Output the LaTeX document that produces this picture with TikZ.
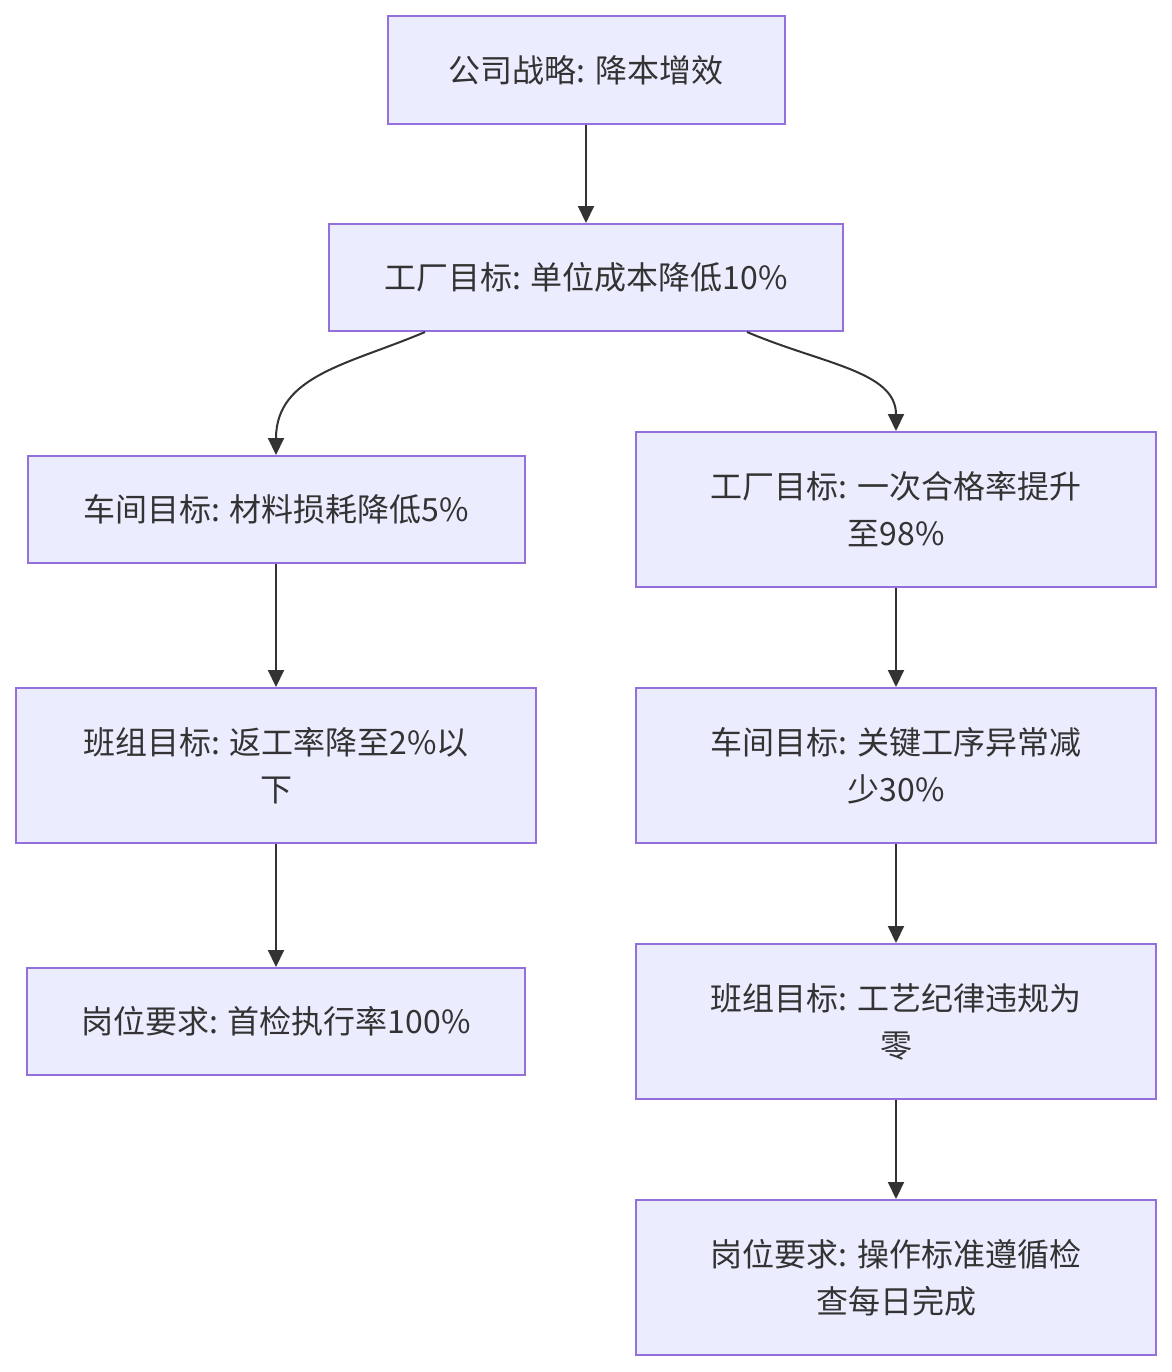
\documentclass[tikz,border=0pt]{standalone}
\usepackage{fontspec}
\setmainfont{Noto Sans CJK SC}
\usepackage{xcolor}
\usetikzlibrary{
    arrows.meta,
    positioning
}
\definecolor{boxfill}{HTML}{ECECFF}
\definecolor{boxline}{HTML}{9370DB}
\definecolor{linkcol}{HTML}{333333}

\begin{document}
\begin{tikzpicture}[
    x=0.5pt, y=-0.5pt,
    >={Triangle[length=8.5pt,width=8pt]},
    goal/.style={draw=boxline, fill=boxfill, line width=1pt, text=linkcol,
        align=center, inner sep=0pt,
        font=\fontsize{16}{23.5}\selectfont},
    link/.style={->, draw=linkcol, line width=1pt}
]

\useasboundingbox (0,0) rectangle (1172,1372);

% top level
\node[goal, minimum width=198.5pt, minimum height=54pt] (corp) at (586,70)
    {公司战略: 降本增效};

\node[goal, minimum width=257pt, minimum height=53.5pt] (plantcost) at (586,277.5)
    {工厂目标: 单位成本降低10\%};

% left branch
\node[goal, minimum width=248.5pt, minimum height=53.5pt] (shopmat) at (276,509.5)
    {车间目标: 材料损耗降低5\%};

\node[goal, minimum width=260pt, minimum height=77.5pt] (teamrework) at (276,765.5)
    {班组目标: 返工率降至2\%以\\下};

\node[goal, minimum width=249pt, minimum height=53.5pt] (postfirst) at (276,1021.5)
    {岗位要求: 首检执行率100\%};

% right branch
\node[goal, minimum width=260pt, minimum height=77.5pt] (plantyield) at (896,509.5)
    {工厂目标: 一次合格率提升\\至98\%};

\node[goal, minimum width=260pt, minimum height=77.5pt] (shopabn) at (896,765.5)
    {车间目标: 关键工序异常减\\少30\%};

\node[goal, minimum width=260pt, minimum height=77.5pt] (teamdisc) at (896,1021.5)
    {班组目标: 工艺纪律违规为\\零};

\node[goal, minimum width=260pt, minimum height=77.5pt] (postcheck) at (896,1277.5)
    {岗位要求: 操作标准遵循检\\查每日完成};

% links
\draw[link] (corp.south) -- (plantcost.north);

\draw[link] ([xshift=-80.5pt]plantcost.south)
    .. controls +(-75,32) and +(0,-80) .. (shopmat.north);
\draw[link] ([xshift=80.5pt]plantcost.south)
    .. controls +(75,32) and +(0,-60) .. (plantyield.north);

\draw[link] (shopmat.south) -- (teamrework.north);
\draw[link] (teamrework.south) -- (postfirst.north);

\draw[link] (plantyield.south) -- (shopabn.north);
\draw[link] (shopabn.south) -- (teamdisc.north);
\draw[link] (teamdisc.south) -- (postcheck.north);

\end{tikzpicture}
\end{document}
